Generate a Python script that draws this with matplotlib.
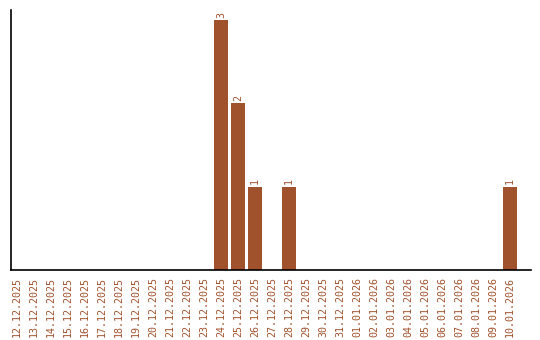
import matplotlib
matplotlib.use("Agg")
import matplotlib.pyplot as plt
import numpy as np

dates = ["12.12.2025", "13.12.2025", "14.12.2025", "15.12.2025", "16.12.2025",
         "17.12.2025", "18.12.2025", "19.12.2025", "20.12.2025", "21.12.2025",
         "22.12.2025", "23.12.2025", "24.12.2025", "25.12.2025", "26.12.2025",
         "27.12.2025", "28.12.2025", "29.12.2025", "30.12.2025", "31.12.2025",
         "01.01.2026", "02.01.2026", "03.01.2026", "04.01.2026", "05.01.2026",
         "06.01.2026", "07.01.2026", "08.01.2026", "09.01.2026", "10.01.2026"]
counts = [0, 0, 0, 0, 0, 0, 0, 0, 0, 0, 0, 0, 3, 2, 1, 0, 1, 0, 0, 0,
          0, 0, 0, 0, 0, 0, 0, 0, 0, 1]

color = '#A0522D'
font = 'DejaVu Sans Mono'

fig = plt.figure(figsize=(5.4, 3.4), dpi=100)
ax = fig.add_axes([11/540, 1 - 270/340, 520/540, 260/340])

x = np.arange(len(dates))
ax.bar(x, counts, width=0.82, color=color)

for xi, c in zip(x, counts):
    if c > 0:
        ax.text(xi, c + 0.03, str(c), rotation=90, ha='center', va='bottom',
                color=color, fontsize=7.2, family=font)

ax.set_xlim(-0.35, 30.24)
ax.set_ylim(0, 3.12)
ax.set_xticks(x)
ax.set_xticklabels(dates, rotation=90, color=color, fontsize=7.2, family=font)
ax.tick_params(axis='x', length=0, pad=5)
ax.set_yticks([])
ax.spines['top'].set_visible(False)
ax.spines['right'].set_visible(False)
ax.spines['left'].set_linewidth(1.2)
ax.spines['bottom'].set_linewidth(1.2)

fig.savefig('out.png', dpi=100)
